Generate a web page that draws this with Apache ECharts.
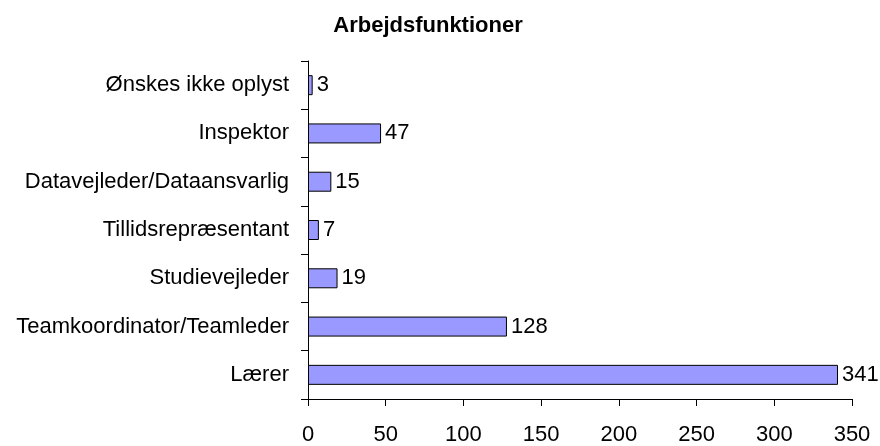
<!DOCTYPE html>
<html>
<head>
    <meta charset="utf-8">
    <script type="text/javascript" src="https://cdn.jsdelivr.net/npm/echarts@6/dist/echarts.min.js"></script>
    <style>
        html, body { margin: 0; padding: 0; background: #fff; }
    </style>
</head>
<body>
<div id="main" style="width:880px;height:446px"></div>
<script type="text/javascript">
    // kategorier nedefra og op (ECharts tegner første kategori nederst)
    var categories = ['Lærer', 'Teamkoordinator/Teamleder', 'Studievejleder', 'Tillidsrepræsentant',
        'Datavejleder/Dataansvarlig', 'Inspektor', 'Ønskes ikke oplyst'];
    var values = [341, 128, 19, 7, 15, 47, 3];
    var xTicks = [0, 50, 100, 150, 200, 250, 300, 350];

    var myChart = echarts.init(document.getElementById('main'));
    var font = 'Arial, "Liberation Sans", sans-serif';
    var option = {
        animation: false,
        title: {
            text: 'Arbejdsfunktioner',
            left: 423,
            top: 10,
            textAlign: 'center',
            textStyle: {fontFamily: font, fontSize: 22, fontWeight: 'bold', color: '#000'}
        },
        grid: {left: 308, right: 28, top: 61, bottom: 47},
        xAxis: {
            type: 'value',
            min: xTicks[0],
            max: xTicks[xTicks.length - 1],
            interval: 50,
            splitLine: {show: false},
            axisLine: {show: true, lineStyle: {color: '#000', width: 1}},
            axisTick: {show: true, length: 7, lineStyle: {color: '#000'}},
            axisLabel: {fontFamily: font, fontSize: 22, color: '#000', margin: 25}
        },
        yAxis: {
            type: 'category',
            data: categories,
            axisLine: {lineStyle: {color: '#000', width: 1}},
            axisTick: {show: true, length: 7, lineStyle: {color: '#000'}},
            axisLabel: {fontFamily: font, fontSize: 22, color: '#000', margin: 19}
        },
        series: [{
            type: 'bar',
            data: values,
            barWidth: 20,
            itemStyle: {color: '#9999ff', borderColor: '#000', borderWidth: 1},
            label: {
                show: true,
                position: 'right',
                distance: 4,
                fontFamily: font,
                fontSize: 22,
                color: '#000'
            }
        }]
    };
    myChart.setOption(option);
</script>
</body>
</html>
